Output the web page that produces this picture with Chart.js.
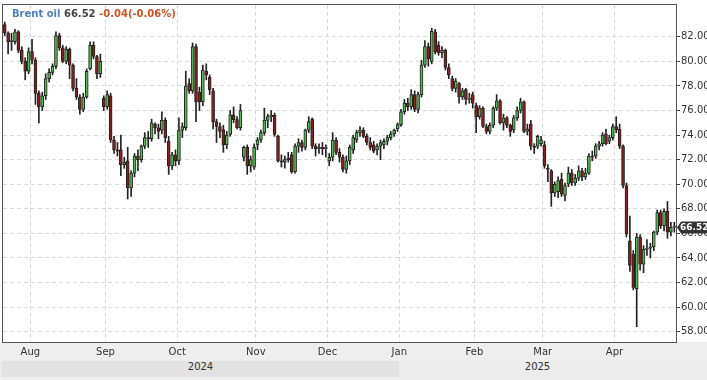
<!DOCTYPE html>
<html>
<head>
<meta charset="utf-8">
<script src="https://cdn.jsdelivr.net/npm/chart.js@4.4.1/dist/chart.umd.min.js"></script>
<style>
  html, body { margin: 0; padding: 0; background: #fff; }
  #wrap { position: relative; width: 707px; height: 380px; overflow: hidden; }
  #title { position: absolute; left: 12px; top: 8px; font: bold 10px "DejaVu Sans", sans-serif; white-space: nowrap; }
  #title .name { color: #4f7fbf; }
  #title .last { color: #444; }
  #title .chg { color: #d2521f; }
  #band { position: absolute; left: 0; top: 361px; width: 707px; height: 16px; background: #ececec; }
  .yr { position: absolute; top: 361px; height: 16px; line-height: 16px; text-align: center;
        font: 10px "DejaVu Sans", sans-serif; color: #333; }
</style>
</head>
<body>
<div id="wrap">
  <canvas id="chart" width="707" height="380"></canvas>
  <div id="title"><span class="name">Brent oil</span> <span class="last">66.52</span> <span class="chg">-0.04(-0.06%)</span></div>
  <div id="band"></div>
  <div class="yr" id="yr2024" style="background:#e2e2e2">2024</div>
  <div class="yr" id="yr2025">2025</div>
</div>
<script>
// --- datos diarios (Jul 2024 - Abr 2025) ---
const openP = [
  83.0, 82.3, 81.6, 81.6, 82.4, 80.9, 80.0, 79.2,
  80.8, 80.1, 77.4, 76.3, 77.2, 78.6, 79.1, 79.6, 82.1, 81.1, 80.0, 81.0, 79.7, 77.8, 77.1, 76.1, 77.1, 79.4, 81.3, 80.4, 79.0, 77.0,
  76.3, 77.2, 73.6, 72.8, 72.8, 71.6, 71.9, 69.7, 70.9, 72.3, 72.0, 73.1, 73.8, 73.7, 74.9, 74.6, 74.4, 75.2, 73.5, 71.5, 72.4,
  71.9, 74.4, 74.6, 78.2, 77.6, 81.2, 77.5, 76.7, 79.2, 78.7, 77.6, 75.1, 74.7, 74.45, 73.2, 74.05, 75.66, 75.26, 74.6, 72.2, 73.0, 71.5, 71.4,
  73.2, 73.6, 74.2, 75.2, 75.5, 75.6, 73.9, 71.9, 71.8, 72.1, 72.4, 71.0, 73.1, 73.4, 73.0, 74.4, 75.3, 73.1, 72.9, 73.0, 72.9,
  71.9, 72.2, 73.6, 72.6, 72.2, 71.2, 71.9, 72.8, 73.6, 74.2, 74.4, 73.9, 73.4, 73.2, 72.8, 73.1, 73.2, 73.5, 73.8, 74.1, 74.5,
  74.85, 75.9, 76.6, 76.3, 77.3, 76.1, 77.3, 79.7, 81.2, 80.0, 82.4, 81.3, 80.7, 80.9, 79.5, 78.6, 77.8, 78.2, 77.1, 77.7, 76.9, 77.3,
  76.4, 75.5, 76.2, 74.7, 74.3, 74.8, 76.2, 76.8, 75.0, 75.4, 74.8, 74.4, 75.4, 76.0, 76.7, 74.3, 74.9, 73.1, 73.1, 73.3,
  73.2, 71.3, 71.1, 69.3, 69.4, 70.4, 69.1, 70.0, 70.9, 70.1, 70.5, 71.1, 70.6, 70.9, 72.3, 72.3, 73.1, 73.3, 74.1, 73.5, 73.8,
  74.7, 74.5, 73.1, 69.9, 65.4, 64.3, 61.5, 65.7, 63.5, 64.7, 64.8, 64.9, 66.1, 67.7, 66.6, 67.8, 66.1, 66.5
];
const highP = [
  83.2, 82.4, 82.3, 82.6, 82.5, 81.2, 80.3, 81.1,
  81.8, 80.3, 77.6, 77.5, 79.0, 79.4, 79.8, 82.4, 82.3, 81.3, 81.2, 81.1, 79.8, 78.6, 77.3, 77.4, 79.4, 81.6, 81.6, 80.5, 80.6, 77.2,
  77.6, 77.4, 73.9, 73.4, 74.0, 72.2, 73.0, 71.1, 72.5, 72.8, 73.2, 74.2, 74.3, 75.3, 75.0, 74.9, 75.9, 75.4, 73.9, 72.6, 72.8,
  75.4, 75.0, 79.2, 78.6, 81.5, 81.4, 77.9, 79.7, 79.8, 78.9, 77.8, 75.3, 75.0, 74.8, 74.3, 76.0, 76.3, 75.5, 76.5, 73.1, 73.2, 72.3, 73.3,
  73.8, 74.4, 76.2, 75.7, 76.0, 75.8, 74.0, 72.4, 72.3, 72.6, 72.6, 73.3, 73.7, 73.6, 74.5, 75.5, 75.4, 73.3, 73.3, 73.4, 73.2,
  72.5, 74.2, 73.8, 72.9, 72.4, 72.3, 73.2, 74.0, 74.4, 74.7, 74.6, 74.1, 73.8, 73.5, 73.3, 73.6, 73.7, 74.0, 74.3, 74.5, 75.0,
  76.1, 76.9, 77.0, 77.7, 77.6, 77.5, 80.1, 81.7, 81.5, 82.7, 82.6, 81.6, 81.2, 81.0, 79.8, 78.8, 78.6, 78.3, 77.8, 77.8, 77.4, 77.5,
  76.6, 76.4, 76.3, 74.9, 75.0, 76.3, 77.3, 76.9, 75.7, 75.5, 74.9, 75.6, 76.3, 77.0, 76.8, 74.9, 75.2, 73.3, 74.0, 73.9,
  73.5, 71.6, 71.2, 70.2, 70.6, 70.9, 70.1, 71.4, 71.2, 70.8, 71.5, 71.3, 71.3, 72.5, 72.7, 73.3, 73.5, 74.2, 74.5, 74.0, 74.9,
  75.5, 74.9, 73.2, 70.1, 67.4, 64.6, 66.0, 65.9, 65.0, 65.5, 65.2, 66.2, 67.9, 67.9, 68.0, 68.6, 66.9, 66.9
];
const lowP = [
  82.1, 80.6, 80.9, 81.4, 80.7, 79.8, 78.5, 79.0,
  79.8, 76.5, 75.0, 76.0, 76.9, 78.3, 78.9, 79.4, 80.9, 79.9, 79.8, 78.6, 77.6, 76.9, 75.7, 75.9, 77.0, 79.3, 80.2, 78.6, 78.7, 76.0,
  76.1, 73.4, 72.5, 72.3, 70.7, 71.3, 68.8, 69.0, 70.6, 71.1, 71.8, 72.9, 73.0, 73.5, 74.1, 73.7, 74.1, 73.4, 70.8, 71.2, 71.5,
  71.6, 73.8, 74.4, 77.4, 77.4, 75.1, 76.0, 76.4, 78.5, 77.3, 74.5, 73.4, 73.8, 72.6, 72.9, 73.9, 75.0, 74.5, 74.4, 71.9, 70.8, 71.0, 71.2,
  72.8, 73.4, 74.0, 74.6, 75.1, 73.9, 71.8, 71.4, 71.3, 71.8, 70.9, 70.9, 72.6, 72.7, 72.8, 74.2, 72.9, 72.3, 72.5, 72.4, 72.2,
  71.5, 71.9, 72.4, 71.8, 71.0, 70.9, 71.6, 72.5, 73.4, 73.9, 73.8, 73.2, 72.8, 72.56, 72.4, 72.0, 72.9, 73.2, 73.6, 73.9, 74.3,
  74.7, 75.7, 76.0, 76.1, 75.9, 75.8, 77.1, 79.5, 79.6, 79.8, 80.6, 80.5, 80.3, 79.3, 78.6, 77.6, 77.5, 76.6, 76.9, 76.5, 76.6, 76.2,
  74.2, 75.3, 74.6, 74.1, 74.1, 74.6, 76.0, 74.9, 74.4, 74.6, 73.9, 74.2, 75.2, 75.8, 74.2, 74.0, 72.8, 72.5, 72.9, 73.1,
  71.3, 70.2, 68.2, 69.0, 68.9, 69.0, 68.65, 69.8, 69.9, 69.9, 70.3, 70.3, 70.4, 70.8, 71.9, 72.1, 72.8, 73.1, 73.2, 73.3, 73.6,
  74.2, 72.9, 69.7, 65.7, 62.9, 61.4, 58.4, 63.0, 62.8, 64.2, 64.0, 64.6, 65.9, 66.4, 66.2, 65.6, 65.8, 66.1
];
const closeP = [
  82.3, 81.6, 81.7, 82.4, 80.9, 80.0, 79.2, 80.8,
  80.1, 77.4, 76.3, 77.2, 78.6, 79.1, 79.6, 82.1, 81.1, 80.0, 81.0, 79.7, 77.8, 77.1, 76.1, 77.1, 79.2, 81.3, 80.4, 79.0, 80.0, 76.3,
  77.3, 73.6, 72.8, 72.7, 71.6, 71.8, 69.7, 70.9, 72.3, 72.0, 73.1, 73.8, 73.7, 75.0, 74.6, 74.3, 75.2, 73.8, 71.5, 72.4, 71.9,
  74.4, 74.7, 78.0, 77.6, 81.2, 76.7, 76.7, 79.3, 78.9, 77.7, 75.1, 74.7, 74.3, 73.2, 74.0, 75.66, 75.26, 74.6, 76.0, 73.0, 71.5, 72.0, 73.0,
  73.6, 74.2, 75.2, 75.5, 75.6, 74.05, 71.9, 71.8, 72.0, 72.0, 71.0, 73.1, 73.4, 73.0, 74.4, 75.1, 73.1, 72.9, 73.0, 72.9, 72.95,
  72.2, 73.6, 72.6, 72.2, 71.2, 71.9, 73.0, 73.8, 74.2, 74.4, 73.9, 73.4, 73.0, 72.7, 73.1, 73.4, 73.5, 73.8, 74.1, 74.4, 74.85,
  75.9, 76.6, 76.3, 77.3, 76.1, 77.3, 79.7, 81.2, 80.2, 82.45, 80.8, 80.7, 80.9, 79.5, 78.9, 77.8, 78.4, 77.1, 77.6, 76.9, 77.0, 76.6,
  75.5, 76.2, 74.7, 74.3, 74.8, 76.2, 76.8, 75.0, 75.4, 74.8, 74.3, 75.4, 76.0, 76.7, 74.3, 74.5, 73.1, 73.0, 73.9, 73.6,
  71.5, 71.2, 69.3, 70.0, 70.3, 69.2, 69.9, 70.9, 70.1, 70.5, 71.1, 70.6, 70.9, 72.3, 72.2, 73.1, 73.3, 74.0, 73.3, 73.8, 74.7,
  74.45, 73.1, 69.9, 65.95, 63.4, 61.6, 65.7, 63.5, 64.7, 64.8, 64.9, 66.1, 67.7, 66.6, 67.8, 66.1, 66.5, 66.52
];

// etiquetas del eje X: primer día de cada mes (índice de vela)
const monthLabels = ['Aug', 'Sep', 'Oct', 'Nov', 'Dec', 'Jan', 'Feb', 'Mar', 'Apr'];
const monthStart  = [8, 30, 51, 74, 95, 116, 138, 158, 179];
const yearLabels  = ['2024', '2025'];
const yearSplit   = 116;          // índice de la primera vela de 2025
const yTicks = [58, 60, 62, 64, 66, 68, 70, 72, 74, 76, 78, 80, 82];
const lastPrice = 66.52;

const N = closeP.length;
const upFill = '#4fba4f', downFill = '#8d1d1d', edge = '#222';

const bodies = closeP.map((c, i) => ({ x: i, y: [openP[i], c] }));
const wicks  = closeP.map((c, i) => ({ x: i, y: [lowP[i], highP[i]] }));
const bodyColors = closeP.map((c, i) => c >= openP[i] ? upFill : downFill);

// --- plugin: fondo, marco y etiqueta del último precio ---
const framePlugin = {
  id: 'frame',
  beforeDraw(chart) {
    const { ctx, chartArea: a, width, height } = chart;
    ctx.save();
    ctx.fillStyle = '#fff';
    ctx.fillRect(0, 0, width, height);
    ctx.fillStyle = '#eeeeee';
    ctx.fillRect(0, a.bottom, width, height - a.bottom);
    ctx.restore();
  },
  afterDraw(chart) {
    const { ctx, chartArea: a } = chart;
    ctx.save();
    ctx.strokeStyle = '#555';
    ctx.lineWidth = 1;
    ctx.strokeRect(a.left - 0.5, a.top - 0.5, a.right - a.left + 1, a.bottom - a.top + 1);

    // etiqueta del último precio sobre el eje Y
    const y = Math.round(chart.scales.y.getPixelForValue(lastPrice)) + 0.5;
    ctx.fillStyle = '#333';
    ctx.beginPath();
    ctx.moveTo(a.right + 1, y);
    ctx.lineTo(a.right + 5, y - 6);
    ctx.lineTo(chart.width, y - 6);
    ctx.lineTo(chart.width, y + 6);
    ctx.lineTo(a.right + 5, y + 6);
    ctx.closePath();
    ctx.fill();
    ctx.fillStyle = '#fff';
    ctx.font = 'bold 9px "DejaVu Sans"';
    ctx.textBaseline = 'middle';
    ctx.fillText(lastPrice.toFixed(2), a.right + 4, y + 0.5);
    ctx.restore();

    // banda de años debajo del eje
    const xs = chart.scales.x;
    const split = Math.round(xs.getPixelForValue(yearSplit - 0.5));
    const y24 = document.getElementById('yr2024');
    const y25 = document.getElementById('yr2025');
    y24.textContent = yearLabels[0];
    y25.textContent = yearLabels[1];
    y24.style.left = '2px';
    y24.style.width = (split - 2) + 'px';
    y25.style.left = split + 'px';
    y25.style.width = (Math.round(a.right) - split) + 'px';
  }
};

new Chart(document.getElementById('chart').getContext('2d'), {
  type: 'bar',
  data: {
    datasets: [
      {
        label: 'wick',
        data: wicks,
        backgroundColor: '#222',
        barThickness: 1,
        grouped: false,
        order: 2
      },
      {
        label: 'body',
        data: bodies,
        backgroundColor: bodyColors,
        borderColor: edge,
        borderWidth: 1,
        borderSkipped: false,
        barThickness: 3,
        minBarLength: 1,
        grouped: false,
        order: 1
      }
    ]
  },
  options: {
    responsive: false,
    animation: false,
    layout: { padding: { left: 3, top: 5, right: 0, bottom: 20 } },
    plugins: { legend: { display: false }, tooltip: { enabled: false } },
    scales: {
      x: {
        type: 'linear',
        offset: false,
        min: -0.5,
        max: N - 0.5,
        afterBuildTicks: (s) => { s.ticks = monthStart.map(i => ({ value: i - 0.5 })); },
        afterFit: (s) => { s.height = 18; s.paddingLeft = 0; s.paddingRight = 0; },
        grid: { color: '#d9d9d9', drawTicks: false, offset: false },
        border: { display: false, dash: [4, 3] },
        ticks: {
          autoSkip: false,
          maxRotation: 0,
          padding: 4,
          color: '#333',
          font: { family: 'DejaVu Sans', size: 10 },
          callback: (v) => monthLabels[monthStart.indexOf(v + 0.5)]
        }
      },
      y: {
        position: 'right',
        min: 57.16,
        max: 84.59,
        afterBuildTicks: (s) => { s.ticks = yTicks.map(v => ({ value: v })); },
        afterFit: (s) => { s.width = 31; s.paddingTop = 0; s.paddingBottom = 0; },
        grid: { color: '#d9d9d9', tickColor: '#444', tickLength: 4, tickBorderDash: [] },
        border: { display: false, dash: [4, 3] },
        ticks: {
          padding: 1,
          color: '#333',
          font: { family: 'DejaVu Sans', size: 10 },
          callback: (v) => Number(v).toFixed(2)
        }
      }
    }
  },
  plugins: [framePlugin]
});
</script>
</body>
</html>
